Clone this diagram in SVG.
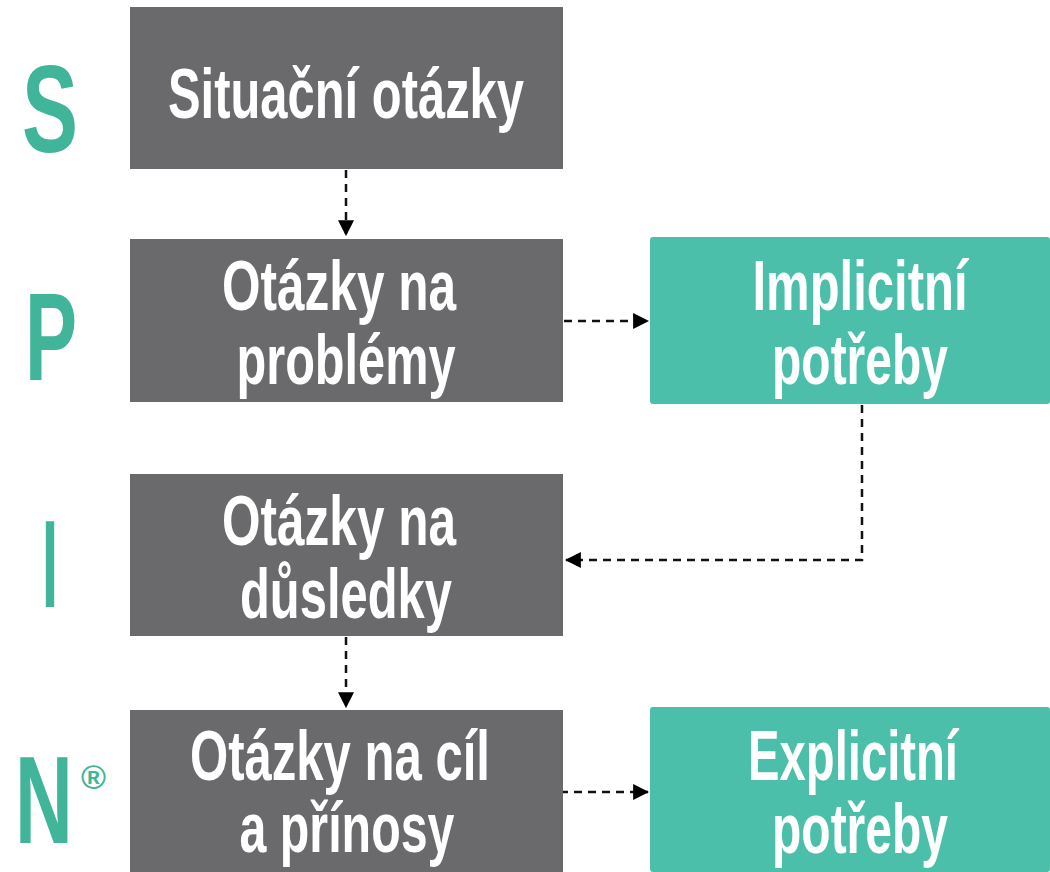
<svg xmlns="http://www.w3.org/2000/svg" width="1050" height="872" viewBox="0 0 1050 872">
<style>
.q{fill:#6a6a6d}
.n{fill:#4bbfaa}
.t{fill:#ffffff;font-family:"Liberation Sans",Arial,sans-serif;font-size:70px;font-weight:bold;text-anchor:middle}
.L{fill:#41b599;font-family:"Liberation Sans",Arial,sans-serif;font-size:125px;font-weight:bold}
.c{fill:none;stroke:#111111;stroke-width:2.5;stroke-dasharray:8 6}
</style>
<defs>
<marker id="ah" markerUnits="userSpaceOnUse" markerWidth="16" markerHeight="16" viewBox="0 0 14 14" refX="13" refY="7" orient="auto">
<path d="M0,0 L14,7 L0,14 Z" fill="#000"/>
</marker>
</defs>
<rect width="1050" height="872" fill="#ffffff"/>
<g id="letters">
<text class="L" x="22" y="152" textLength="56" lengthAdjust="spacingAndGlyphs">S</text>
<text class="L" x="25" y="380" textLength="52" lengthAdjust="spacingAndGlyphs">P</text>
<text class="L" x="42" y="607" textLength="16" lengthAdjust="spacingAndGlyphs">I</text>
<text class="L" transform="translate(15,843) scale(0.64,1)">N</text>
<text x="81" y="789" fill="#41b599" font-family="Liberation Sans,Arial,sans-serif" font-weight="bold" font-size="34" textLength="25" lengthAdjust="spacingAndGlyphs">®</text>
</g>
<g id="connectors">
<line class="c" x1="346" y1="170" x2="346" y2="235" marker-end="url(#ah)"/>
<line class="c" x1="564" y1="321" x2="648" y2="321" marker-end="url(#ah)"/>
<path class="c" d="M862,405 V560 H566" marker-end="url(#ah)"/>
<line class="c" x1="346" y1="637" x2="346" y2="707" marker-end="url(#ah)"/>
<line class="c" x1="560" y1="792" x2="648" y2="792" marker-end="url(#ah)"/>
</g>
<g id="node-s">
<rect class="q" x="130" y="7" width="433" height="162"/>
<text class="t" x="346" y="118" textLength="356" lengthAdjust="spacingAndGlyphs">Situační otázky</text>
</g>
<g id="node-p">
<rect class="q" x="130" y="239" width="433" height="163"/>
<text class="t" x="339" y="310" textLength="234" lengthAdjust="spacingAndGlyphs">Otázky na</text>
<text class="t" x="346" y="384" textLength="219" lengthAdjust="spacingAndGlyphs">problémy</text>
</g>
<g id="node-implicit">
<rect class="n" x="650" y="237" width="400" height="167" rx="3"/>
<text class="t" transform="translate(860,310) scale(0.70,1)">Implicitní</text>
<text class="t" x="860" y="384" textLength="176" lengthAdjust="spacingAndGlyphs">potřeby</text>
</g>
<g id="node-i">
<rect class="q" x="130" y="474" width="433" height="162"/>
<text class="t" x="339" y="545" textLength="234" lengthAdjust="spacingAndGlyphs">Otázky na</text>
<text class="t" x="346" y="618" textLength="212" lengthAdjust="spacingAndGlyphs">důsledky</text>
</g>
<g id="node-n">
<rect class="q" x="130" y="710" width="433" height="162"/>
<text class="t" x="340" y="780" textLength="300" lengthAdjust="spacingAndGlyphs">Otázky na cíl</text>
<text class="t" x="347" y="852" textLength="215" lengthAdjust="spacingAndGlyphs">a přínosy</text>
</g>
<g id="node-explicit">
<rect class="n" x="650" y="707" width="400" height="165" rx="3"/>
<text class="t" transform="translate(853,780) scale(0.675,1)">Explicitní</text>
<text class="t" x="860" y="853" textLength="176" lengthAdjust="spacingAndGlyphs">potřeby</text>
</g>
</svg>
